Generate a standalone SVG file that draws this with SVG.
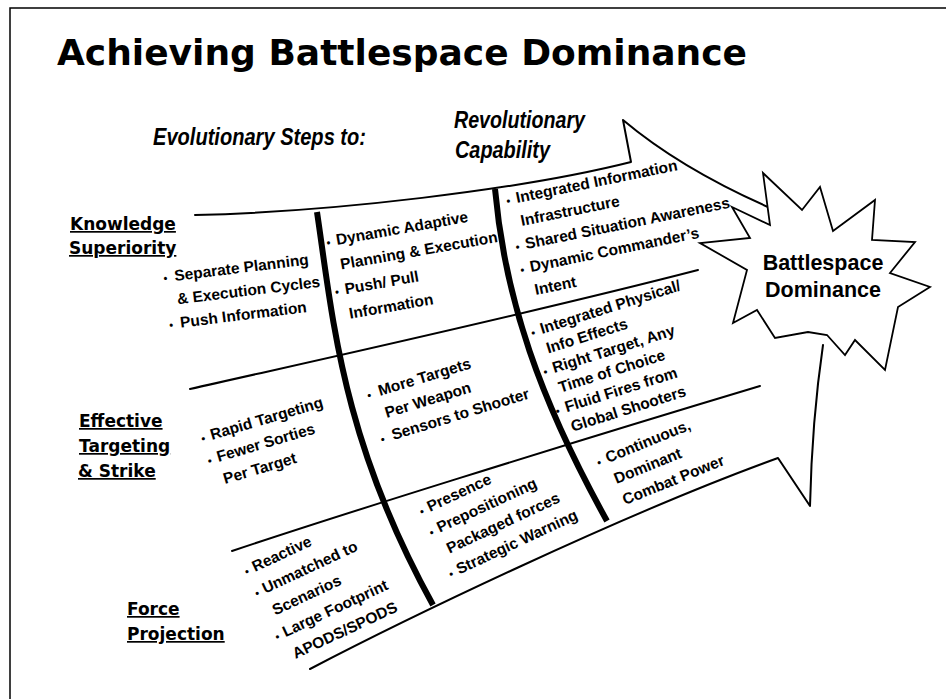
<svg xmlns="http://www.w3.org/2000/svg" width="946" height="699" viewBox="0 0 946 699">
<style>
.thin{fill:none;stroke:#000;stroke-width:2;stroke-linejoin:round;stroke-linecap:round}
.thick{fill:none;stroke:#000;stroke-width:6;stroke-linecap:butt}
.b{font-family:"Liberation Sans",Arial,sans-serif;font-weight:bold;font-size:15.5px;fill:#000}
.lab{font-family:"DejaVu Sans",Verdana,sans-serif;font-weight:bold;font-size:17px;fill:#000;text-decoration:underline}
.it{font-family:"Liberation Sans",Arial,sans-serif;font-weight:bold;font-style:italic;font-size:24px;fill:#000}
.dot{font-size:11px}
</style>
<rect x="0" y="0" width="946" height="699" fill="#fff"/>
<g id="frame">
<path d="M10,699 L10,8 L946,8" fill="none" stroke="#000" stroke-width="1.5"/>
</g>
<g id="title">
<text x="57" y="65" font-family="DejaVu Sans,Verdana,sans-serif" font-weight="bold" font-size="36" textLength="690" lengthAdjust="spacingAndGlyphs">Achieving Battlespace Dominance</text>
</g>
<g id="headers">
<text class="it" x="153" y="145" textLength="213" lengthAdjust="spacingAndGlyphs">Evolutionary Steps to:</text>
<text class="it" x="454" y="128" textLength="131" lengthAdjust="spacingAndGlyphs">Revolutionary</text>
<text class="it" x="455" y="158" textLength="95" lengthAdjust="spacingAndGlyphs">Capability</text>
</g>
<g id="connectors">
<path class="thin" d="M195,215 C330,212 520,190 631,162 L623,120 Q680,168 768,207"/>
<path class="thin" d="M310,669 C400,622 620,515 778,458 L810,506 Q812,420 823,345"/>
<path class="thin" d="M190,389 C300,364 520,316 698,270"/>
<path class="thin" d="M232,551 C330,518 560,446 760,386"/>
<path class="thick" d="M317,212 C333,320 342,440 433,605"/>
<path class="thick" d="M495,189 C505,300 540,400 607,521"/>
</g>
<g id="labels">
<text class="lab" x="70" y="230">Knowledge</text>
<text class="lab" x="69" y="254">Superiority</text>
<text class="lab" x="79" y="427">Effective</text>
<text class="lab" x="79" y="452">Targeting</text>
<text class="lab" x="78" y="477">&amp; Strike</text>
<text class="lab" x="127" y="615">Force</text>
<text class="lab" x="127" y="640">Projection</text>
</g>
<g id="ks-evo1" transform="translate(175,281) rotate(-7)">
<text class="b" x="-11" y="0"><tspan class="dot">•</tspan></text>
<text class="b" x="0" y="0">Separate Planning</text>
<text class="b" x="0" y="23.5">&amp; Execution Cycles</text>
<text class="b" x="-11" y="47"><tspan class="dot">•</tspan></text>
<text class="b" x="0" y="47">Push Information</text>
</g>
<g id="ks-evo2" transform="translate(337,245) rotate(-10)">
<text class="b" x="-10" y="0"><tspan class="dot">•</tspan></text>
<text class="b" x="0" y="0">Dynamic Adaptive</text>
<text class="b" x="0" y="25">Planning &amp; Execution</text>
<text class="b" x="-10" y="50"><tspan class="dot">•</tspan></text>
<text class="b" x="0" y="50">Push/ Pull</text>
<text class="b" x="0" y="75">Information</text>
</g>
<g id="ks-rev" transform="translate(517,203) rotate(-11.5)">
<text class="b" x="-10" y="0"><tspan class="dot">•</tspan></text>
<text class="b" x="0" y="0">Integrated Information</text>
<text class="b" x="0" y="23.5">Infrastructure</text>
<text class="b" x="-10" y="47"><tspan class="dot">•</tspan></text>
<text class="b" x="0" y="47">Shared Situation Awareness</text>
<text class="b" x="-10" y="70.5"><tspan class="dot">•</tspan></text>
<text class="b" x="0" y="70.5">Dynamic Commander’s</text>
<text class="b" x="0" y="94">Intent</text>
</g>
<g id="ts-evo1" transform="translate(212,440) rotate(-16.5)">
<text class="b" x="-10" y="0"><tspan class="dot">•</tspan></text>
<text class="b" x="0" y="0">Rapid Targeting</text>
<text class="b" x="-10" y="23"><tspan class="dot">•</tspan></text>
<text class="b" x="0" y="23">Fewer Sorties</text>
<text class="b" x="0" y="46">Per Target</text>
</g>
<g id="ts-evo2" transform="translate(380,396) rotate(-17)">
<text class="b" x="-12" y="0"><tspan class="dot">•</tspan></text>
<text class="b" x="0" y="0">More Targets</text>
<text class="b" x="0" y="23">Per Weapon</text>
<text class="b" x="-12" y="46"><tspan class="dot">•</tspan></text>
<text class="b" x="0" y="46">Sensors to Shooter</text>
</g>
<g id="ts-rev" transform="translate(542,334) rotate(-17.5)">
<text class="b" x="-10" y="0"><tspan class="dot">•</tspan></text>
<text class="b" x="0" y="0">Integrated Physical/</text>
<text class="b" x="0" y="20.5">Info Effects</text>
<text class="b" x="-10" y="41"><tspan class="dot">•</tspan></text>
<text class="b" x="0" y="41">Right Target, Any</text>
<text class="b" x="0" y="61.5">Time of Choice</text>
<text class="b" x="-10" y="82"><tspan class="dot">•</tspan></text>
<text class="b" x="0" y="82">Fluid Fires from</text>
<text class="b" x="0" y="102.5">Global Shooters</text>
</g>
<g id="fp-evo1" transform="translate(255,572) rotate(-25)">
<text class="b" x="-9" y="0"><tspan class="dot">•</tspan></text>
<text class="b" x="0" y="0">Reactive</text>
<text class="b" x="-9" y="24"><tspan class="dot">•</tspan></text>
<text class="b" x="0" y="24">Unmatched to</text>
<text class="b" x="0" y="48">Scenarios</text>
<text class="b" x="-9" y="72"><tspan class="dot">•</tspan></text>
<text class="b" x="0" y="72">Large Footprint</text>
<text class="b" x="0" y="96">APODS/SPODS</text>
</g>
<g id="fp-evo2" transform="translate(430,512) rotate(-25)">
<text class="b" x="-9" y="0"><tspan class="dot">•</tspan></text>
<text class="b" x="0" y="0">Presence</text>
<text class="b" x="-9" y="23"><tspan class="dot">•</tspan></text>
<text class="b" x="0" y="23">Prepositioning</text>
<text class="b" x="0" y="46">Packaged forces</text>
<text class="b" x="-9" y="69"><tspan class="dot">•</tspan></text>
<text class="b" x="0" y="69">Strategic Warning</text>
</g>
<g id="fp-rev" transform="translate(608,463) rotate(-22)">
<text class="b" x="-10" y="0"><tspan class="dot">•</tspan></text>
<text class="b" x="0" y="0">Continuous,</text>
<text class="b" x="0" y="22.7">Dominant</text>
<text class="b" x="0" y="45.4">Combat Power</text>
</g>
<g id="dominance">
<polygon points="763,173 802,210 820,187 833,231 875,200 872,240 915,242 890,273 930,287 898,307 885,370 855,340 845,355 827,335 808,332 775,338 757,310 733,323 747,270 700,243 750,238 732,207 770,225" fill="#fff" stroke="#000" stroke-width="1.8" stroke-linejoin="miter"/>
<text x="823" y="270" text-anchor="middle" font-family="Liberation Sans,Arial,sans-serif" font-weight="bold" font-size="21.5">Battlespace</text>
<text x="823" y="297" text-anchor="middle" font-family="Liberation Sans,Arial,sans-serif" font-weight="bold" font-size="21.5">Dominance</text>
</g>
</svg>
